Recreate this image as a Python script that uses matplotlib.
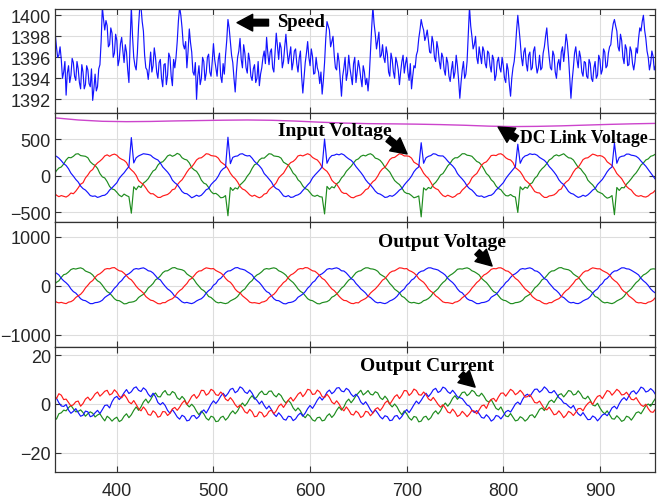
import numpy as np
import matplotlib
matplotlib.use("Agg")
import matplotlib.pyplot as plt

# ---------------- data ----------------
x_ticks = [400, 500, 600, 700, 800, 900]

# rotor speed (rpm), sampled every 1.25 time units from 335 to 960
speed = [
    1397.4, 1398.2, 1397.0, 1396.0, 1396.2, 1397.0, 1395.8, 1394.0, 1394.6, 1395.6, 1392.4, 1394.5, 1395.2, 1393.6, 1394.3, 1395.9, 1395.5, 1394.2, 1393.8, 1395.6,
    1394.9, 1393.6, 1393.0, 1395.3, 1394.6, 1393.0, 1393.4, 1395.2, 1394.8, 1393.5, 1393.2, 1394.9, 1391.9, 1393.0, 1394.4, 1392.8, 1393.2, 1394.9, 1395.3, 1397.5,
    1400.8, 1399.6, 1398.6, 1399.5, 1399.0, 1397.0, 1397.2, 1398.8, 1398.3, 1396.0, 1396.4, 1398.2, 1397.6, 1395.2, 1395.8, 1397.3, 1397.9, 1396.6, 1395.5, 1397.2,
    1396.5, 1394.8, 1393.6, 1397.5, 1400.8, 1398.0, 1396.0, 1395.2, 1394.8, 1396.4, 1399.0, 1400.8, 1400.8, 1399.4, 1398.5, 1396.2, 1395.0, 1394.8, 1393.9, 1395.1,
    1396.5, 1394.6, 1395.2, 1396.9, 1396.0, 1394.6, 1394.0, 1395.5, 1395.8, 1394.0, 1393.2, 1395.3, 1395.4, 1393.4, 1394.3, 1396.4, 1396.0, 1394.2, 1393.3, 1395.8,
    1395.0, 1396.0, 1397.5, 1399.5, 1400.8, 1400.0, 1398.8, 1397.2, 1396.8, 1397.5, 1395.0, 1396.6, 1398.7, 1397.4, 1396.5, 1394.6, 1394.3, 1395.5, 1392.0, 1394.2,
    1395.2, 1393.4, 1394.0, 1396.0, 1395.6, 1393.8, 1394.5, 1396.0, 1396.3, 1394.6, 1394.2, 1395.6, 1397.3, 1395.8, 1395.0, 1394.2, 1395.8, 1396.4, 1394.2, 1393.6,
    1395.4, 1394.4, 1396.2, 1397.6, 1399.6, 1398.8, 1397.5, 1396.2, 1395.5, 1394.0, 1392.7, 1394.6, 1396.0, 1396.6, 1397.8, 1395.8, 1395.0, 1397.2, 1396.4, 1395.0,
    1394.5, 1396.4, 1395.7, 1394.2, 1393.8, 1394.9, 1395.3, 1393.6, 1394.0, 1395.6, 1393.3, 1394.4, 1395.0, 1396.0, 1396.6, 1395.4, 1397.9, 1396.4, 1395.3, 1396.5,
    1396.8, 1395.0, 1394.6, 1396.5, 1398.3, 1397.0, 1395.8, 1397.4, 1396.9, 1395.0, 1395.6, 1397.0, 1398.2, 1396.6, 1395.4, 1396.2, 1397.0, 1394.8, 1395.5, 1396.6,
    1396.8, 1395.4, 1394.6, 1395.9, 1396.6, 1394.2, 1392.6, 1394.0, 1395.5, 1396.4, 1397.5, 1396.0, 1395.2, 1396.8, 1396.1, 1394.4, 1394.5, 1396.0, 1395.0, 1394.6,
    1393.5, 1394.6, 1392.5, 1393.8, 1395.5, 1397.8, 1399.4, 1399.0, 1398.6, 1397.0, 1397.5, 1398.0, 1396.2, 1395.0, 1394.8, 1396.4, 1395.6, 1394.0, 1392.3, 1394.2,
    1395.0, 1396.0, 1393.8, 1394.5, 1396.2, 1395.0, 1394.2, 1393.4, 1395.4, 1396.0, 1393.6, 1394.6, 1395.7, 1395.0, 1394.0, 1393.2, 1395.2, 1394.6, 1393.4, 1394.0,
    1392.8, 1394.2, 1396.5, 1398.8, 1400.8, 1399.2, 1398.2, 1396.8, 1397.6, 1398.4, 1396.0, 1396.2, 1397.2, 1396.0, 1395.5, 1397.0, 1396.3, 1394.6, 1394.2, 1396.4,
    1395.8, 1394.6, 1394.0, 1396.0, 1395.5, 1394.8, 1393.4, 1394.6, 1395.6, 1396.2, 1394.5, 1395.4, 1396.0, 1394.6, 1393.8, 1395.4, 1393.0, 1394.2, 1395.2, 1395.0,
    1396.2, 1396.6, 1397.8, 1398.6, 1399.6, 1399.0, 1398.6, 1397.6, 1398.0, 1398.6, 1397.6, 1396.5, 1396.4, 1398.0, 1397.4, 1396.0, 1395.6, 1397.5, 1396.8, 1395.6,
    1394.9, 1396.4, 1396.0, 1394.8, 1394.3, 1396.0, 1395.5, 1394.2, 1393.7, 1394.8, 1395.6, 1394.0, 1394.6, 1396.2, 1395.2, 1393.8, 1392.1, 1393.6, 1394.8, 1395.6,
    1394.0, 1394.4, 1395.6, 1398.2, 1400.8, 1399.0, 1398.0, 1396.8, 1397.2, 1398.0, 1396.0, 1395.4, 1397.0, 1396.2, 1395.4, 1397.0, 1396.6, 1395.4, 1395.0, 1396.6,
    1396.4, 1395.2, 1394.6, 1396.2, 1395.8, 1393.8, 1394.3, 1395.6, 1396.0, 1395.0, 1394.6, 1396.0, 1395.2, 1394.0, 1393.6, 1395.4, 1394.8, 1393.4, 1392.3, 1394.0,
    1395.0, 1395.6, 1396.8, 1398.6, 1400.0, 1398.8, 1397.5, 1396.0, 1395.2, 1396.5, 1396.9, 1395.4, 1394.7, 1396.2, 1396.5, 1394.8, 1395.0, 1396.6, 1397.0, 1395.4,
    1394.5, 1395.0, 1396.2, 1394.8, 1395.0, 1396.4, 1397.0, 1398.0, 1398.8, 1397.2, 1396.0, 1395.0, 1394.8, 1396.6, 1396.2, 1394.6, 1394.0, 1395.4, 1395.8, 1394.8,
    1396.5, 1397.0, 1395.6, 1396.8, 1398.2, 1397.4, 1396.0, 1394.0, 1392.1, 1393.8, 1395.0, 1396.4, 1397.0, 1395.8, 1395.0, 1396.6, 1396.0, 1394.6, 1394.2, 1395.6,
    1395.5, 1394.2, 1394.0, 1395.8, 1395.4, 1394.0, 1393.7, 1395.0, 1395.6, 1394.0, 1394.3, 1396.2, 1395.8, 1394.4, 1394.8, 1396.8, 1396.5, 1395.0, 1395.2, 1396.4,
    1397.0, 1397.2, 1398.4, 1399.2, 1399.6, 1399.0, 1398.5, 1397.0, 1396.6, 1398.2, 1397.6, 1396.0, 1395.4, 1397.2, 1396.8, 1395.2, 1395.3, 1397.0, 1396.6, 1395.4,
    1394.8, 1395.6, 1396.9, 1396.4, 1397.8, 1398.8, 1398.5, 1399.4, 1400.0, 1398.6, 1397.8, 1396.6, 1396.0, 1394.8, 1395.4, 1396.6, 1396.1, 1394.8, 1395.2, 1396.4,
    1395.8,
]

# DC link voltage (V), every 25 time units from 335 to 960
dc_link = [790, 760, 742, 737, 740, 747, 752, 757, 760, 756, 745, 730, 718,
           710, 707, 703, 697, 688, 676, 670, 673, 680, 690, 700, 708, 714]

# input phase voltages (V), every 2.5 time units from 335 to 960
vin_green = [
    10, 70, 105, 120, 160, 215, 250, 245, 265, 295, 300, 275, 270, 265, 245, 190, 160, 140, 100, 30,
    -15, -30, -80, -145, -180, -190, -225, -265, -285, -250, -270, -285, -510, -150, -190, -140, -160, -100, -75, -40,
    15, 65, 85, 145, 180, 190, 225, 270, 285, 265, 280, 305, 290, 245, 225, 215, 175, 110, 80, 60,
    10, -60, -100, -115, -160, -215, -245, -240, -265, -300, -295, -270, -545, -160, -200, -165, -180, -125, -95, -60,
    -5, 35, 100, 150, 165, 215, 240, 240, 270, 300, 295, 270, 265, 260, 240, 185, 165, 145, 95, 35,
    5, -55, -85, -140, -175, -190, -230, -270, -280, -265, -285, -290, -520, -145, -185, -150, -165, -110, -85, -30,
    5, 60, 95, 130, 175, 215, 230, 265, 280, 270, 290, 300, 280, 240, 230, 210, 170, 115, 85, 50,
    -10, -65, -95, -120, -165, -220, -240, -245, -270, -300, -290, -275, -560, -165, -195, -160, -175, -120, -90, -45,
    10, 30, 80, 135, 170, 220, 245, 245, 270, 300, 300, 280, 275, 265, 230, 195, 180, 145, 90, 30,
    0, -55, -85, -140, -175, -190, -235, -270, -275, -255, -280, -290, -500, -150, -190, -155, -170, -115, -95, -35,
    -5, 55, 95, 125, 165, 215, 235, 270, 285, 270, 285, 300, 270, 245, 240, 215, 165, 115, 95, 50,
    10, -60, -95, -125, -170, -215, -230, -245, -280, -305, -295, -270, -530, -160, -200, -160, -165, -115, -80, -40,
    5, 40, 90, 145, 175, 215, 230, 265, 275, 295, 295,
]
vin_red = [
    -230, -265, -285, -270, -280, -290, -270, -235, -245, -210, -165, -115, -95, -30, 10, 60, 85, 140, 175, 200,
    230, 270, 285, 265, 285, 295, 280, 245, 225, 210, 180, 115, 80, 50, 5, -65, -95, -120, -165, -215,
    -245, -245, -270, -295, -295, -275, -265, -255, -230, -190, -180, -125, -85, -55, -5, 50, 95, 120, 165, 215,
    240, 245, 270, 300, 295, 275, 270, 265, 240, 190, 165, 140, 95, 35, -10, -40, -85, -145, -180, -195,
    -225, -260, -280, -265, -285, -300, -285, -250, -240, -190, -160, -135, -95, -30, 5, 35, 90, 145, 180, 195,
    225, 270, 280, 270, 285, 300, 285, 250, 230, 215, 175, 115, 85, 60, 10, -60, -95, -115, -165, -220,
    -240, -240, -270, -295, -300, -280, -270, -260, -230, -190, -175, -120, -80, -55, -5, 55, 95, 115, 165, 220,
    245, 250, 275, 300, 290, 270, 270, 265, 240, 185, 165, 145, 95, 35, -5, -35, -90, -150, -175, -190,
    -235, -270, -285, -265, -280, -295, -280, -250, -240, -195, -165, -130, -95, -30, 5, 30, 85, 145, 175, 190,
    230, 275, 280, 275, 295, 300, 280, 245, 225, 215, 180, 110, 85, 55, 5, -55, -85, -115, -165, -215,
    -230, -235, -270, -295, -295, -275, -270, -260, -235, -195, -180, -120, -85, -60, -10, 50, 95, 115, 165, 220,
    240, 245, 270, 295, 285, 270, 275, 265, 240, 190, 165, 140, 90, 30, -5, -40, -95, -145, -175, -195,
    -240, -270, -280, -270, -285, -290, -275, -245, -230, -195, -165,
]
vin_blue = [
    270, 265, 240, 205, 165, 140, 95, 35, -5, -50, -85, -140, -175, -195, -230, -270, -280, -275, -295, -285,
    -270, -265, -240, -195, -165, -130, -95, -35, 5, 40, 85, 125, 520, 175, 245, 270, 285, 300, 295, 290,
    280, 250, 230, 215, 175, 120, 85, 50, 5, -60, -95, -120, -165, -215, -240, -245, -270, -300, -285, -265,
    -280, -265, -230, -190, -175, -120, -85, -55, -5, 60, 95, 115, 525, 165, 250, 265, 270, 295, 300, 280,
    270, 275, 240, 195, 165, 135, 95, 30, -5, -45, -85, -145, -175, -190, -230, -275, -285, -270, -295, -290,
    -270, -260, -240, -200, -165, -125, -90, -30, 10, 45, 80, 120, 500, 170, 240, 275, 280, 295, 285, 300,
    285, 255, 230, 210, 175, 125, 85, 45, 0, -55, -95, -125, -165, -210, -240, -250, -270, -295, -290, -270,
    -280, -260, -230, -195, -175, -125, -85, -50, -5, 55, 95, 120, 450, 170, 245, 265, 275, 300, 295, 275,
    270, 270, 240, 200, 165, 135, 95, 30, -10, -45, -85, -140, -175, -195, -230, -270, -280, -275, -295, -285,
    -270, -265, -240, -195, -165, -130, -95, -40, 5, 45, 85, 125, 430, 170, 240, 270, 280, 300, 290, 295,
    280, 250, 230, 210, 175, 125, 90, 50, 5, -55, -95, -120, -165, -215, -240, -250, -275, -295, -285, -265,
    -280, -260, -230, -195, -175, -120, -85, -50, 0, 55, 95, 120, 445, 170, 250, 265, 270, 295, 295, 280,
    275, 265, 240, 200, 165, 130, 85, 40, -5, -50, -90,
]

# output phase voltages (V), every 2.5 time units from 335 to 960
vout_green = [
    10, 70, 100, 170, 225, 240, 280, 330, 350, 340, 355, 365, 345, 300, 280, 260, 220, 155, 100, 70,
    10, -60, -120, -150, -205, -265, -300, -305, -335, -370, -365, -340, -335, -325, -300, -240, -205, -175, -120, -45,
    -5, 45, 120, 150, 200, 265, 300, 305, 335, 365, 370, 345, 335, 325, 300, 240, 205, 175, 120, 45,
    -10, -70, -100, -150, -220, -240, -285, -330, -350, -340, -355, -365, -350, -310, -285, -260, -220, -150, -100, -65,
    5, 65, 105, 175, 220, 245, 285, 335, 350, 340, 355, 365, 350, 305, 285, 255, 215, 150, 105, 65,
    5, -65, -115, -145, -205, -265, -295, -305, -335, -365, -370, -345, -335, -325, -295, -235, -210, -170, -115, -50,
    -10, 55, 115, 145, 205, 265, 295, 305, 340, 365, 365, 345, 340, 325, 295, 235, 205, 175, 115, 45,
    -5, -70, -105, -145, -215, -240, -290, -335, -350, -340, -355, -365, -345, -305, -290, -260, -215, -145, -105, -60,
    10, 65, 105, 175, 215, 245, 285, 335, 345, 340, 355, 365, 345, 305, 285, 255, 220, 150, 105, 65,
    5, -65, -120, -145, -205, -265, -295, -305, -335, -365, -365, -345, -340, -325, -295, -235, -205, -175, -120, -45,
    -5, 50, 120, 150, 205, 265, 300, 305, 335, 365, 370, 345, 335, 325, 295, 240, 205, 175, 115, 45,
    -10, -70, -100, -150, -220, -240, -285, -330, -350, -340, -355, -365, -345, -310, -285, -260, -215, -145, -105, -60,
    5, 65, 105, 170, 220, 245, 285, 335, 345, 340, 360,
]
vout_red = [
    -285, -335, -350, -340, -355, -365, -335, -325, -295, -240, -205, -175, -120, -45, 10, 70, 105, 170, 220, 245,
    285, 335, 350, 345, 365, 370, 335, 305, 295, 255, 205, 150, 120, 60, -10, -65, -105, -150, -220, -260,
    -295, -305, -335, -365, -370, -345, -345, -310, -285, -265, -220, -150, -100, -65, -5, 45, 120, 150, 205, 265,
    300, 305, 340, 365, 355, 345, 350, 310, 285, 260, 220, 150, 100, 70, 10, -70, -120, -145, -205, -245,
    -285, -335, -350, -345, -355, -365, -335, -325, -300, -240, -205, -175, -120, -45, 5, 65, 100, 170, 220, 245,
    285, 335, 350, 345, 370, 365, 335, 305, 295, 255, 205, 150, 120, 60, -5, -65, -100, -155, -215, -265,
    -300, -305, -335, -360, -365, -345, -350, -310, -285, -260, -215, -150, -105, -65, -10, 50, 115, 145, 205, 265,
    295, 305, 335, 365, 360, 345, 350, 310, 290, 260, 215, 145, 105, 70, 10, -65, -115, -145, -205, -240,
    -285, -330, -345, -345, -355, -365, -335, -325, -295, -245, -210, -170, -120, -50, 5, 65, 105, 170, 220, 245,
    285, 335, 350, 345, 365, 365, 340, 305, 295, 255, 205, 150, 115, 60, -5, -65, -105, -150, -220, -260,
    -295, -305, -340, -365, -370, -345, -345, -310, -285, -265, -220, -150, -100, -65, -5, 50, 120, 145, 205, 265,
    300, 305, 340, 365, 355, 345, 345, 310, 285, 260, 220, 150, 105, 70, 10, -70, -120, -145, -210, -245,
    -285, -335, -350, -345, -360, -365, -335, -325, -295, -240, -205,
]
vout_blue = [
    285, 255, 220, 150, 100, 60, 10, -65, -120, -150, -205, -265, -295, -305, -335, -365, -365, -345, -340, -325,
    -295, -240, -205, -175, -120, -50, -5, 65, 105, 170, 220, 245, 285, 335, 350, 340, 355, 365, 340, 305,
    295, 260, 205, 145, 120, 50, -10, -65, -100, -150, -220, -240, -285, -330, -350, -340, -355, -365, -345, -310,
    -285, -265, -220, -150, -100, -65, 10, 45, 120, 150, 205, 265, 300, 305, 335, 365, 370, 345, 335, 320,
    285, 255, 220, 150, 105, 65, 5, -65, -120, -145, -205, -265, -300, -305, -335, -365, -370, -345, -340, -325,
    -295, -235, -205, -170, -120, -50, -5, 65, 100, 170, 220, 245, 285, 335, 350, 340, 355, 365, 345, 305,
    300, 260, 205, 145, 115, 45, -5, -65, -105, -150, -215, -240, -285, -330, -350, -340, -355, -365, -345, -310,
    -290, -260, -215, -150, -105, -65, 10, 50, 115, 145, 205, 265, 295, 305, 340, 365, 365, 345, 335, 320,
    285, 255, 215, 150, 105, 65, 10, -65, -120, -145, -205, -265, -295, -305, -335, -365, -365, -345, -340, -325,
    -300, -235, -205, -175, -120, -50, -5, 65, 105, 170, 220, 245, 285, 335, 350, 340, 355, 365, 345, 305,
    295, 260, 205, 145, 120, 50, -5, -65, -100, -150, -220, -240, -285, -330, -350, -340, -360, -365, -345, -310,
    -285, -265, -220, -150, -100, -65, 5, 45, 120, 150, 205, 265, 300, 305, 335, 365, 365, 345, 340, 315,
    285, 255, 220, 150, 100, 60, 5, -65, -115, -150, -210,
]

# output phase currents (A), every 2.5 time units from 335 to 960
iout_red = [
    3.5, 2.2, 4.2, 3.6, 1.8, 2.0, 0.6, -0.8, -0.3, 0.9, 1.2, -0.9, 0.2, 2.0, 2.8, 1.5, 2.6, 4.1, 4.9, 3.2, 4.1,
    5.2, 5.6, 3.7, 4.2, 5.8, 4.8, 3.1, 2.5, 3.9, 2.6, 0.8, 0.1, 1.4, -0.2, -1.9, -2.8, -1.2, -2.4, -4.3, -4.6, -2.8,
    -3.6, -5.4, -5.0, -3.1, -3.2, -4.7, -3.8, -2.0, -1.4, -2.6, -1.3, 0.3, 1.4, -0.2, 1.3, 3.1, 3.9, 2.3, 3.5, 5.6, 5.5,
    3.6, 4.3, 6.0, 5.4, 3.8, 3.5, 4.9, 3.9, 2.0, 1.3, 2.6, 1.4, -0.3, -1.4, -0.4, -1.5, -3.2, -3.8, -2.2, -3.2, -5.2,
    -5.0, -3.2, -3.6, -5.3, -4.6, -3.0, -2.5, -4.0, -2.8, -0.9, 0.0, -1.4, 0.1, 1.6, 2.7, 1.2, 2.5, 4.0, 4.8, 3.0, 4.2,
    6.0, 5.7, 3.9, 4.1, 5.7, 4.9, 3.0, 2.6, 4.0, 2.7, 0.8, 0.0, 1.3, 0.0, -1.8, -2.8, -1.2, -2.5, -4.2, -4.5, -2.9,
    -3.7, -5.5, -4.9, -3.0, -3.3, -4.8, -3.7, -2.1, -1.5, -2.7, -1.4, 0.4, 1.3, -0.1, 1.4, 3.0, 3.8, 2.2, 3.6, 5.5, 5.4,
    3.5, 4.4, 6.1, 5.5, 3.8, 3.6, 4.9, 3.8, 2.1, 1.4, 2.7, 1.3, -0.2, -1.3, -0.3, -1.6, -3.3, -3.7, -2.1, -3.3, -5.1,
    -4.5, -3.0, -4.0, -5.2, -4.1, -2.6, -2.9, -4.0, -2.4, -0.8, -0.4, -1.8, 0.5, 1.9, 2.3, 1.0, 2.9, 4.4, 4.5, 3.2, 4.6,
    6.0, 5.3, 3.8, 4.5, 5.6, 4.5, 2.8, 3.0, 3.8, 2.3, 0.6, 0.4, 1.2, -0.4, -1.9, -2.4, -1.3, -2.8, -4.4, -4.1, -2.8,
    -4.0, -5.6, -4.6, -3.0, -3.6, -4.7, -3.4, -1.9, -1.8, -2.8, -1.0, 0.2, 1.0, -0.2, 1.7, 3.1, 3.5, 2.2, 3.9, 5.5, 5.1,
    3.6, 4.7, 6.0, 5.2, 3.7, 3.9, 4.8, 3.5, 1.9, 1.7, 2.6, 1.0, -0.4, -1.0, -0.1, -1.9, -3.2, -3.4, -2.1, -3.6,
]
iout_blue = [
    1.5, 2.4, 0.5, -0.8, -1.0, -0.2, -2.5, -3.8, -3.0, -1.9, -3.5, -5.0, -4.6, -2.9, -3.2, -5.2, -4.8, -3.6, -2.6, -3.9, -2.3,
    -0.6, -0.4, -1.6, 0.9, 2.5, 3.1, 1.8, 3.0, 4.6, 5.9, 4.3, 5.0, 6.5, 7.0, 5.6, 5.1, 6.6, 5.8, 4.0, 2.9, 4.4,
    3.0, 0.6, -0.3, 0.6, -0.6, -2.6, -3.8, -2.3, -3.7, -5.3, -6.2, -4.6, -5.2, -6.9, -6.6, -4.9, -4.7, -6.0, -5.1, -3.4, -2.4,
    -3.7, -2.0, -0.1, 1.3, 0.2, 1.5, 3.2, 4.4, 3.1, 4.3, 6.0, 6.4, 4.6, 5.3, 7.0, 6.4, 4.9, 4.3, 5.7, 4.4, 2.5,
    1.5, 0.0, 1.2, -0.6, -2.0, -0.8, -2.3, -4.1, -5.1, -3.6, -4.7, -6.2, -6.6, -5.0, -5.2, -6.8, -6.1, -4.6, -3.7, -5.0, -3.7,
    -1.9, -0.6, -1.8, -0.2, 1.6, 2.9, 1.6, 3.0, 4.8, 5.7, 4.2, 5.0, 6.5, 6.7, 5.3, 5.0, 6.4, 5.7, 4.0, 3.0, 4.0,
    2.9, 0.8, -0.2, 0.9, -0.6, -2.4, -3.7, -2.4, -3.7, -5.2, -6.1, -4.8, -5.2, -6.8, -6.6, -5.0, -4.7, -6.2, -5.1, -3.5, -2.3,
    -3.5, -2.0, -0.3, 1.2, 0.1, 1.5, 3.1, 4.4, 3.0, 4.2, 5.8, 6.4, 4.7, 5.3, 6.9, 6.4, 5.0, 4.3, 5.6, 4.4, 2.9,
    2.6, 2.2, 0.9, -0.4, -0.9, -2.5, -3.5, -2.7, -4.0, -5.5, -5.8, -4.4, -5.4, -7.0, -6.3, -4.7, -5.0, -6.1, -4.8, -3.2, -2.6,
    -3.3, -1.7, 0.0, 0.8, -0.2, 1.9, 3.4, 4.0, 3.0, 4.6, 6.0, 6.1, 4.8, 5.6, 7.0, 6.1, 4.7, 4.6, 5.5, 4.1, 2.6,
    1.8, 0.4, 0.1, -0.9, -1.7, -0.6, -2.6, -4.0, -4.8, -3.5, -5.0, -6.4, -6.3, -4.9, -5.5, -6.9, -5.8, -4.5, -4.0, -4.8, -3.4,
    -1.6, -0.9, -2.0, 0.1, 1.7, 2.6, 1.5, 3.3, 4.9, 5.4, 4.1, 5.3, 6.9, 6.4, 4.9, 5.3, 6.3, 5.4, 3.9, 3.3,
]
iout_green = [
    -5.5, -6.2, -4.0, -3.6, -2.5, -2.8, -1.5, -0.6, -2.0, -3.2, -3.0, -2.4, -3.5, -5.0, -4.0, -3.2, -3.8, -5.3, -4.5, -4.0, -5.6,
    -6.9, -5.0, -5.8, -7.0, -6.0, -5.4, -7.2, -6.6, -5.0, -4.0, -5.6, -4.4, -2.6, -1.2, -2.6, -1.2, 0.8, 2.0, 0.4, 1.8, 3.6,
    4.5, 3.0, 2.9, 4.6, 5.5, 3.8, 3.7, 5.1, 4.5, 2.5, 1.8, 3.1, 2.0, -0.2, -1.2, -0.1, -1.2, -3.0, -4.4, -2.9, -4.0,
    -5.8, -6.6, -5.0, -5.4, -7.2, -7.0, -5.5, -5.0, -6.6, -5.6, -3.9, -2.8, -4.0, -2.8, -0.9, 0.4, -0.8, 0.4, 2.2, 3.4, 2.0,
    2.9, 4.4, 5.3, 3.9, 3.9, 5.2, 5.3, 3.7, 2.9, 4.3, 3.4, 1.6, 0.4, 1.5, 0.4, -1.6, -2.8, -1.6, -2.8, -4.7, -5.6,
    -4.2, -5.0, -6.5, -7.0, -5.6, -5.4, -6.9, -6.6, -4.9, -4.0, -5.5, -4.4, -2.6, -1.2, -2.5, -1.2, 0.9, 2.0, 0.5, 1.8, 3.4,
    4.5, 5.6, 3.7, 4.5, 5.5, 4.0, 3.7, 5.0, 4.5, 2.6, 1.8, 3.2, 2.0, -0.1, -1.2, 0.0, -1.2, -3.1, -4.4, -2.8, -4.0,
    -5.7, -6.6, -5.1, -5.4, -7.3, -7.0, -5.4, -5.0, -6.5, -5.6, -3.8, -2.8, -4.1, -2.8, -0.8, 0.4, -0.9, 0.4, 2.3, 3.4, 1.9,
    3.2, 4.7, 4.9, 3.4, 4.2, 5.6, 5.0, 3.5, 3.2, 4.4, 3.1, 1.4, 0.8, 1.8, 0.0, -1.8, -2.4, -1.2, -3.2, -4.9, -5.2,
    -3.9, -5.4, -6.9, -6.6, -5.2, -5.8, -7.0, -6.2, -4.7, -4.4, -5.6, -4.0, -2.2, -1.6, -2.7, -0.8, 1.0, 1.6, 0.6, 2.2, 3.8,
    4.2, 2.9, 4.1, 5.5, 5.2, 3.7, 4.0, 5.4, 4.2, 2.5, 2.1, 3.2, 1.6, -0.4, -0.8, 0.3, -1.6, -3.1, -4.0, -2.8, -4.4,
    -6.0, -6.2, -4.8, -5.8, -7.1, -6.6, -5.0, -5.4, -6.6, -5.2, -3.6, -3.2, -4.0, -2.4, -0.7, 0.0, -0.9, 0.8, 2.3, 3.1,
]

T_START, T_END = 335, 960

BLUE = "#1414ff"
RED = "#ff1a1a"
GREEN = "#1e8c1e"
MAGENTA = "#cc44cc"


def tgrid(series):
    return np.linspace(T_START, T_END, len(series))


# ---------------- figure ----------------
plt.rcParams["font.family"] = ["Liberation Sans", "DejaVu Sans"]

fig = plt.figure(figsize=(6.57, 5.02), dpi=100)
FW, FH = 657.0, 502.0
LEFT, RIGHT = 55, 655


def panel(top, bottom):
    return fig.add_axes([LEFT / FW, 1 - bottom / FH, (RIGHT - LEFT) / FW, (bottom - top) / FH])


ax_s = panel(10, 114)
ax_in = panel(114, 223)
ax_out = panel(223, 348)
ax_cur = panel(348, 473)


def style(ax, ylim, yticks, show_x=False):
    ax.set_xlim(336, 957)
    ax.set_ylim(*ylim)
    ax.set_xticks(x_ticks)
    ax.set_yticks(yticks)
    ax.grid(True, color="#dddddd", lw=0.8)
    ax.set_axisbelow(True)
    ax.tick_params(direction="in", top=True, right=True, length=4, width=0.8,
                   color="#333333", labelsize=13, labelcolor="#262626")
    ax.tick_params(axis="y", pad=3)
    ax.tick_params(axis="x", pad=7, labelbottom=show_x)
    for s in ax.spines.values():
        s.set_color("#333333")
        s.set_linewidth(0.9)


style(ax_s, (1390.7, 1400.6), [1392, 1394, 1396, 1398, 1400])
style(ax_in, (-630, 855), [-500, 0, 500])
style(ax_out, (-1250, 1300), [-1000, 0, 1000])
style(ax_cur, (-27.8, 23.3), [-20, 0, 20], show_x=True)

LW = 0.85
ax_s.plot(tgrid(speed), speed, color=BLUE, lw=LW)

ax_in.plot(tgrid(dc_link), dc_link, color=MAGENTA, lw=1.0)
ax_in.plot(tgrid(vin_green), vin_green, color=GREEN, lw=LW)
ax_in.plot(tgrid(vin_red), vin_red, color=RED, lw=LW)
ax_in.plot(tgrid(vin_blue), vin_blue, color=BLUE, lw=LW)

ax_out.plot(tgrid(vout_green), vout_green, color=GREEN, lw=LW)
ax_out.plot(tgrid(vout_blue), vout_blue, color=BLUE, lw=LW)
ax_out.plot(tgrid(vout_red), vout_red, color=RED, lw=LW)

ax_cur.plot(tgrid(iout_green), iout_green, color=GREEN, lw=LW)
ax_cur.plot(tgrid(iout_blue), iout_blue, color=BLUE, lw=LW)
ax_cur.plot(tgrid(iout_red), iout_red, color=RED, lw=LW)

# ---------------- callouts ----------------
ARROW = dict(arrowstyle="simple,head_width=0.8,head_length=0.75,tail_width=0.32",
             fc="black", ec="black", mutation_scale=15, shrinkA=0, shrinkB=0)


def callout(ax, text, text_xy, tail, head, size=14):
    ax.annotate("", xy=head, xytext=tail, arrowprops=ARROW, annotation_clip=False)
    ax.text(*text_xy, text, family=["Liberation Serif", "DejaVu Serif"],
            fontweight="bold", fontsize=size, color="black", ha="left", va="center")


callout(ax_s, "Speed", (565.8, 1399.45), (557.0, 1399.3), (524.4, 1399.3), size=13.5)
callout(ax_in, "Input Voltage", (566.8, 610), (680.7, 502), (700.4, 297))
callout(ax_in, "DC Link Voltage", (817.4, 527), (814.0, 505), (794.6, 664), size=12.8)
callout(ax_out, "Output Voltage", (670.4, 912), (772.9, 688), (788.4, 402))
callout(ax_cur, "Output Current", (651.7, 15.9), (756.3, 12.2), (770.8, 6.9))

fig.savefig("out.png", dpi=100)
